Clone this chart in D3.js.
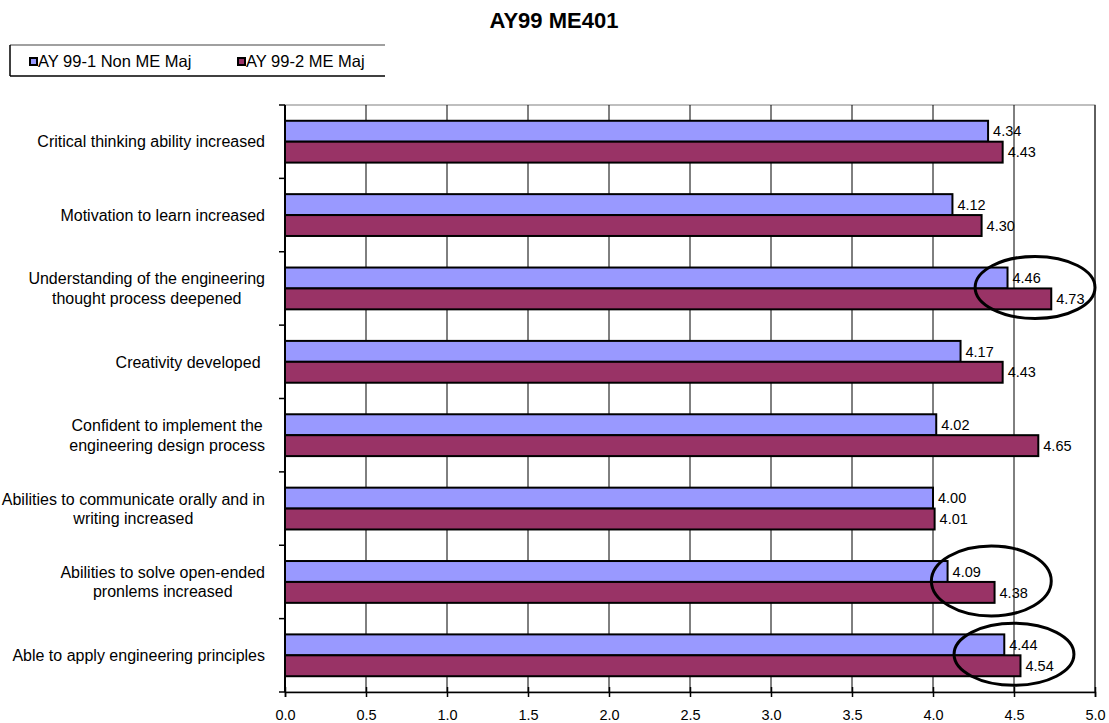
<!DOCTYPE html>
<html>
<head>
<meta charset="utf-8">
<script src="https://cdn.jsdelivr.net/npm/d3@7"></script>
<style>
  body { margin: 0; background: #fff; }
  text { font-family: "Liberation Sans", Arial, sans-serif; fill: #000; }
</style>
</head>
<body>
<div id="chart-area"></div>
<script>
// chart data, top to bottom
var categories = [
	["Critical thinking ability increased"],
	["Motivation to learn increased"],
	["Understanding of the engineering", "thought process deepened"],
	["Creativity developed "],
	["Confident to implement the", "engineering design process"],
	["Abilities to communicate orally and in", "writing increased"],
	["Abilities to solve open-ended", "pronlems increased"],
	["Able to apply engineering principles"]
];
var seriesNames = ["AY 99-1 Non ME Maj", "AY 99-2 ME Maj"];
var nonMeValues = [4.34, 4.12, 4.46, 4.17, 4.02, 4.00, 4.09, 4.44];
var meValues = [4.43, 4.30, 4.73, 4.43, 4.65, 4.01, 4.38, 4.54];
var xTicks = [0, 0.5, 1, 1.5, 2, 2.5, 3, 3.5, 4, 4.5, 5];
// hand-drawn ellipses: centre value, category index
var circledValues = [4.63, 4.36, 4.50];
var circledCategories = [2, 6, 7];

var colors = ["#9999ff", "#993366"];

var W = 1109, H = 723;
var margin = { left: 285, right: 14, top: 105, bottom: 31 };
var width = W - margin.left - margin.right;
var height = H - margin.top - margin.bottom;

var svg = d3.select("#chart-area").append("svg")
	.attr("width", W)
	.attr("height", H);

// title
svg.append("text")
	.attr("x", 554)
	.attr("y", 28)
	.attr("text-anchor", "middle")
	.attr("font-size", "22px")
	.attr("font-weight", "bold")
	.text("AY99 ME401");

// legend
var legend = svg.append("g");
legend.append("line").attr("x1", 10).attr("x2", 385).attr("y1", 45).attr("y2", 45)
	.attr("stroke", "#808080").attr("stroke-width", 1.5);
legend.append("line").attr("x1", 10).attr("x2", 385).attr("y1", 76).attr("y2", 76)
	.attr("stroke", "#000").attr("stroke-width", 1.5);
legend.append("line").attr("x1", 10).attr("x2", 10).attr("y1", 45).attr("y2", 76)
	.attr("stroke", "#000").attr("stroke-width", 1.5);

var legendX = [30, 238];
seriesNames.forEach(function (name, i) {
	legend.append("rect")
		.attr("x", legendX[i])
		.attr("y", 58)
		.attr("width", 7)
		.attr("height", 7)
		.attr("fill", colors[i])
		.attr("stroke", "#000")
		.attr("stroke-width", 2);
	legend.append("text")
		.attr("x", legendX[i] + 8)
		.attr("y", 67)
		.attr("font-size", "16.5px")
		.text(name);
});

var g = svg.append("g")
	.attr("transform", "translate(" + margin.left + "," + margin.top + ")");

// scales
var x = d3.scaleLinear().domain([0, 5]).range([0, width]);
var y = d3.scaleBand().domain(d3.range(categories.length)).range([0, height]).padding(0);
var ySeries = d3.scaleBand().domain([0, 1])
	.range([y.bandwidth() * 0.215, y.bandwidth() * 0.785]).padding(0);

// plot border (top/right grey)
g.append("rect")
	.attr("width", width)
	.attr("height", height)
	.attr("fill", "none")
	.attr("stroke", "#808080")
	.attr("stroke-width", 1);

// vertical gridlines
g.selectAll(".grid")
	.data(xTicks.slice(1))
	.enter().append("line")
	.attr("class", "grid")
	.attr("x1", function (d) { return x(d); })
	.attr("x2", function (d) { return x(d); })
	.attr("y1", 0)
	.attr("y2", height)
	.attr("stroke", "#000")
	.attr("stroke-width", 1);

// bars
var series = [nonMeValues, meValues];
series.forEach(function (vals, s) {
	g.selectAll(".bar" + s)
		.data(vals)
		.enter().append("rect")
		.attr("class", "bar" + s)
		.attr("x", x(0))
		.attr("y", function (d, i) { return y(i) + ySeries(s); })
		.attr("width", function (d) { return x(d) - x(0); })
		.attr("height", ySeries.bandwidth())
		.attr("fill", colors[s])
		.attr("stroke", "#000")
		.attr("stroke-width", 2);

	g.selectAll(".lab" + s)
		.data(vals)
		.enter().append("text")
		.attr("class", "lab" + s)
		.attr("x", function (d) { return x(d) + 5; })
		.attr("y", function (d, i) { return y(i) + ySeries(s) + ySeries.bandwidth() / 2; })
		.attr("dy", "0.36em")
		.attr("font-size", "14.5px")
		.text(function (d) { return d3.format(".2f")(d); });
});

// x axis
var xAxisCall = d3.axisBottom(x).tickValues(xTicks).tickSize(5)
	.tickFormat(d3.format(".1f"));
var xAxisGroup = g.append("g")
	.attr("transform", "translate(0," + height + ")")
	.call(xAxisCall);
xAxisGroup.select(".domain").attr("stroke", "#000").attr("stroke-width", 1.5);
xAxisGroup.selectAll(".tick line").attr("y1", -5).attr("stroke-width", 1.5);
xAxisGroup.selectAll(".tick text")
	.attr("font-size", "14.5px")
	.attr("font-family", "Liberation Sans, Arial, sans-serif")
	.attr("y", 18);

// y axis line and category ticks
g.append("line")
	.attr("x1", 0).attr("x2", 0).attr("y1", 0).attr("y2", height)
	.attr("stroke", "#000").attr("stroke-width", 2);
g.selectAll(".ytick")
	.data(d3.range(categories.length + 1))
	.enter().append("line")
	.attr("class", "ytick")
	.attr("x1", -6).attr("x2", 0)
	.attr("y1", function (d) { return d * y.step(); })
	.attr("y2", function (d) { return d * y.step(); })
	.attr("stroke", "#000").attr("stroke-width", 1.5);

// category labels: right-aligned block, lines centred inside the block
var labelRight = -20;
var lineH = 19.5;
categories.forEach(function (lines, i) {
	var grp = g.append("g");
	var texts = lines.map(function (line) {
		return grp.append("text")
			.attr("font-size", "16px")
			.style("white-space", "pre")
			.text(line);
	});
	var maxW = d3.max(texts, function (t) { return t.node().getComputedTextLength(); });
	var cy = y(i) + y.bandwidth() / 2;
	texts.forEach(function (t, k) {
		t.attr("text-anchor", lines.length > 1 ? "middle" : "end")
			.attr("x", lines.length > 1 ? labelRight - maxW / 2 : labelRight)
			.attr("y", cy + (k - (lines.length - 1) / 2) * lineH)
			.attr("dy", "0.36em");
	});
});

// hand-drawn ellipses
circledValues.forEach(function (v, k) {
	var ci = circledCategories[k];
	g.append("ellipse")
		.attr("cx", x(v))
		.attr("cy", y(ci) + y.bandwidth() / 2 - 1)
		.attr("rx", x(0.37) - x(0))
		.attr("ry", k === 1 ? 35 : 31)
		.attr("fill", "none")
		.attr("stroke", "#000")
		.attr("stroke-width", 3);
});
</script>
</body>
</html>
